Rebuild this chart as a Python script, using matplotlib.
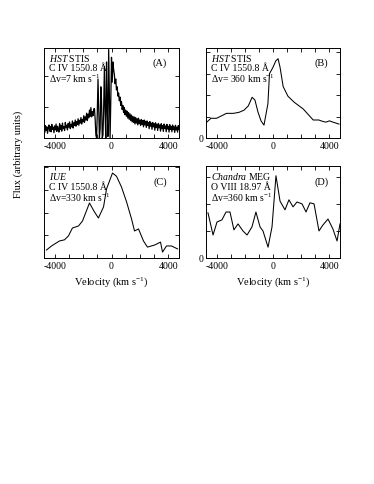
import numpy as np
import matplotlib
matplotlib.use("Agg")
import matplotlib.pyplot as plt

plt.rcParams['font.family'] = ['Liberation Serif', 'DejaVu Serif']
plt.rcParams['mathtext.fontset'] = 'custom'
plt.rcParams['mathtext.rm'] = 'Liberation Serif'
plt.rcParams['mathtext.it'] = 'Liberation Serif:italic'
plt.rcParams['font.size'] = 7

# panel A: HST STIS, 50 km/s sampling
vel_a = np.arange(-4750, 4751, 50)
flux_a_blue = [.30, .18, .40, .25, .36, .15, .33, .42, .22, .37,
               .20, .44, .28, .35, .17, .39, .26, .45, .21, .38,
               .30, .19, .46, .27, .40, .22, .48, .30, .36, .24,
               .50, .33, .41, .26, .47, .35, .52, .30, .44, .36,
               .55, .32, .49, .40, .58, .38, .53, .44, .62, .41,
               .57, .48, .66, .45, .60, .52, .72, .50, .68, .58,
               .80, .56, .77, .65, .90, .70, .98, .68, .85, .72,
               .93]
flux_a_core = [0.95, 0.6, 0.1, 0.0, 0.8, 1.9, 0.9, 0.0, 0.3, 1.65,
               1.2, 0.0, 0.1, 1.0, 2.3, 0.8, 0.0, 2.45, 1.0, 0.05,
               2.85, 1.4, 0.0, 1.2, 2.6, 1.8, 2.45]
flux_a_red = [2.20, 2.05, 1.75, 1.90, 1.55, 1.65, 1.35, 1.45, 1.20, 1.32,
              1.05, 1.18, 0.92, 1.05, 0.82, 0.98, 0.75, 0.90, 0.70, 0.86,
              0.64, 0.82, 0.60, 0.78, 0.56, 0.74, 0.52, 0.70, 0.50, 0.68,
              0.45, 0.66, 0.48, 0.62, 0.42, 0.64, 0.46, 0.58, 0.40, 0.60,
              0.44, 0.56, 0.36, 0.58, 0.42, 0.54, 0.34, 0.55, 0.40, 0.50,
              0.30, 0.53, 0.38, 0.48, 0.28, 0.50, 0.36, 0.46, 0.25, 0.49,
              0.34, 0.44, 0.24, 0.47, 0.33, 0.42, 0.22, 0.46, 0.30, 0.40,
              0.21, 0.45, 0.31, 0.39, 0.20, 0.44, 0.29, 0.38, 0.19, 0.43,
              0.28, 0.37, 0.20, 0.42, 0.27, 0.36, 0.18, 0.41, 0.26, 0.35,
              0.19, 0.40, 0.28]
flux_a = flux_a_blue + flux_a_core + flux_a_red

# panel B: HST STIS binned
vel_b = [-4680, -4400, -4000, -3600, -3300, -2800, -2400, -2050, -1750, -1480,
         -1280, -1060, -850, -640, -360, -250, 0, 200, 360, 500,
         720, 1060, 1500, 2150, 2850, 3250, 3500, 3750, 4000, 4250, 4680]
flux_b = [0.75, 0.92, 0.92, 1.05, 1.15, 1.15, 1.2, 1.3, 1.5, 1.9,
          1.77, 1.2, 0.8, 0.6, 1.6, 3.0, 3.3, 3.6, 3.7, 3.3,
          2.4, 1.95, 1.67, 1.35, 0.84, 0.84, 0.78, 0.74, 0.8, 0.74, 0.65]

# panel C: IUE
vel_c = [-4580, -4220, -3660, -3310, -3030, -2750, -2320, -2040, -1550, -1200,
         -920, -560, -350, 70, 350, 700, 1060, 1410, 1620, 1900,
         2250, 2530, 3030, 3450, 3590, 3870, 4220, 4650]
flux_c = [0.35, 0.53, 0.75, 0.8, 0.97, 1.32, 1.41, 1.63, 2.42, 2.03,
          1.76, 2.25, 3.04, 3.74, 3.6, 3.13, 2.47, 1.72, 1.19, 1.28,
          0.75, 0.48, 0.57, 0.7, 0.26, 0.53, 0.53, 0.4]

# panel D: Chandra MEG
vel_d = [-4610, -4250, -3970, -3620, -3330, -3050, -2770, -2480, -2130, -1840,
         -1490, -1210, -920, -710, -350, -70, 210, 500, 850, 1130,
         1420, 1700, 2060, 2340, 2620, 2910, 3260, 3540, 3900, 4250,
         4540, 4750]
flux_d = [1.67, 0.85, 1.33, 1.41, 1.7, 1.7, 1.04, 1.26, 1.0, 0.85,
          1.15, 1.7, 1.15, 1.0, 0.4, 1.15, 3.04, 2.1, 1.78, 2.15,
          1.89, 2.07, 2.0, 1.7, 2.04, 2.0, 1.0, 1.22, 1.44, 1.07,
          0.63, 1.26]

panels = [
    (vel_a, flux_a, 2.9, [0, 1, 2], False,
     ["$\\it{HST}$ STIS", "C IV 1550.8 \u00c5", "\u0394v=7 km s$^{-1}$"], "(A)"),
    (vel_b, flux_b, 4.2, [0, 1, 2, 3, 4], True,
     ["$\\it{HST}$ STIS", "C IV 1550.8 \u00c5", "\u0394v= 360 km s$^{-1}$"], "(B)"),
    (vel_c, flux_c, 4.05, [0, 1, 2, 3, 4], False,
     ["$\\it{IUE}$", "C IV 1550.8 \u00c5", "\u0394v=330 km s$^{-1}$"], "(C)"),
    (vel_d, flux_d, 3.4, [0, 1, 2, 3], True,
     ["$\\it{Chandra}$ MEG", "O VIII 18.97 \u00c5", "\u0394v=360 km s$^{-1}$"], "(D)"),
]

rects = [
    [44 / 374, 1 - 139 / 485, 135 / 374, 90 / 485],
    [206 / 374, 1 - 139 / 485, 134 / 374, 90 / 485],
    [44 / 374, 1 - 259 / 485, 135 / 374, 92 / 485],
    [206 / 374, 1 - 259 / 485, 134 / 374, 92 / 485],
]

fig = plt.figure(figsize=(3.74, 4.85), dpi=100)

for i, (v, f, ytop, yt, zero, lines, tag) in enumerate(panels):
    ax = fig.add_axes(rects[i])
    ax.plot(v, f, color='black', lw=0.9 if i == 0 else 0.75)
    ax.set_xlim(-4750, 4750)
    ax.set_ylim(0, ytop)
    xt = np.arange(-4000, 4001, 1000)
    ax.set_xticks(xt)
    ax.set_xticklabels([str(t) if t in (-4000, 0, 4000) else '' for t in xt])
    ax.set_yticks(yt)
    ax.set_yticklabels(['0' if (t == 0 and zero) else '' for t in yt])
    ax.tick_params(direction='in', top=True, right=True, length=3,
                   width=0.6, labelsize=7, pad=2)
    for s in ax.spines.values():
        s.set_linewidth(0.7)
    for k, txt in enumerate(lines):
        ax.text(0.04, 0.9 - k * 0.118, txt, transform=ax.transAxes,
                fontsize=7, va='center', ha='left')
    ax.text(0.86, 0.84, tag, transform=ax.transAxes, fontsize=7.5,
            va='center', ha='center')
    if i >= 2:
        ax.set_xlabel("Velocity (km s$^{-1}$)", fontsize=7.5, labelpad=3)

fig.text(0.048, 0.682, "Flux (arbitrary units)", rotation=90,
         fontsize=7.5, va='center', ha='center')

fig.savefig("out.png", dpi=100)
